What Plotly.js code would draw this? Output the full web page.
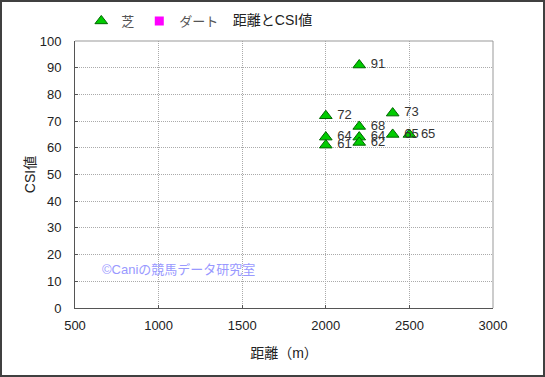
<!DOCTYPE html>
<html><head><meta charset="utf-8">
<script src="https://cdn.plot.ly/plotly-3.0.1.min.js"></script>
<style>
body{margin:0;background:#fff;}
#wrap{position:relative;width:545px;height:377px;}
#chart{width:545px;height:377px;}
#frame{position:absolute;left:0;top:0;width:545px;height:377px;box-sizing:border-box;border:2px solid #404040;pointer-events:none;}
</style>
</head><body>
<div id="wrap"><div id="chart"></div><div id="frame"></div></div>
<script>
const turfDistance = [2000, 2000, 2000, 2200, 2200, 2200, 2200, 2400, 2400, 2500];
const turfCSI      = [72,   64,   61,   91,   68,   64,   62,   73,   65,   65];
const dirtDistance = [null];
const dirtCSI      = [null];
const xTicks = [500, 1000, 1500, 2000, 2500, 3000];
const yTicks = [0, 10, 20, 30, 40, 50, 60, 70, 80, 90, 100];

const font = "'Liberation Sans', 'Noto Sans CJK JP', sans-serif";

const traces = [
  {
    x: turfDistance, y: turfCSI, name: '芝', type: 'scatter',
    mode: 'markers+text', text: turfCSI.map(String), texttemplate: ' %{text}', textposition: 'middle right',
    textfont: {size: 13, color: '#333333', family: font},
    marker: {symbol: 'triangle-up', size: 11, color: '#00cc00', line: {color: '#006600', width: 1}},
    cliponaxis: false
  },
  {
    x: dirtDistance, y: dirtCSI, name: 'ダート', type: 'scatter', mode: 'markers',
    marker: {symbol: 'square', size: 9, color: '#ff00ff'}
  }
];

const gridDash = '1px,1px';

const layout = {
  width: 545, height: 377,
  margin: {l: 75, r: 52, t: 41, b: 69, autoexpand: false},
  paper_bgcolor: '#ffffff', plot_bgcolor: '#ffffff',
  font: {family: font, size: 12, color: '#222222'},
  title: {text: '距離とCSI値', font: {size: 14, color: '#222222', family: font}, x: 0.5, xref: 'container', y: 25, yref: 'container', xanchor: 'center', yanchor: 'middle'},
  showlegend: true,
  legend: {orientation: 'h', x: 0.015, y: 1.075, xanchor: 'left', yanchor: 'middle', font: {size: 13, color: '#555555'}, itemwidth: 30, tracegroupgap: 0, bgcolor: 'rgba(0,0,0,0)'},
  xaxis: {
    range: [500, 3000], tickvals: xTicks, ticktext: xTicks.map(String),
    showgrid: true, gridcolor: '#aaaaaa', griddash: gridDash, gridwidth: 1,
    showline: true, linecolor: '#555555', linewidth: 1, mirror: false,
    ticks: 'inside', ticklen: 3, tickcolor: '#555555', ticklabelstandoff: 5,
    zeroline: false, tickfont: {size: 13, color: '#222222'},
    title: {text: '距離（m）', font: {size: 14, color: '#222222'}, standoff: 16}
  },
  yaxis: {
    range: [0, 100], tickvals: yTicks, ticktext: yTicks.map(String),
    showgrid: true, gridcolor: '#aaaaaa', griddash: gridDash, gridwidth: 1,
    showline: true, linecolor: '#555555', linewidth: 1, mirror: false,
    ticks: 'inside', ticklen: 3, tickcolor: '#555555', ticklabelstandoff: 10,
    zeroline: false, tickfont: {size: 13, color: '#222222'},
    title: {text: 'CSI値', font: {size: 14, color: '#222222'}, standoff: 0}
  },
  shapes: [
    {type: 'line', xref: 'paper', yref: 'paper', x0: 0, x1: 1, y0: 1, y1: 1, line: {color: '#999999', width: 1}},
    {type: 'line', xref: 'paper', yref: 'paper', x0: 1, x1: 1, y0: 0, y1: 1, line: {color: '#999999', width: 1}}
  ],
  annotations: [
    {text: '©Caniの競馬データ研究室', xref: 'x', yref: 'y', x: 650, y: 14.5, xanchor: 'left', yanchor: 'middle', showarrow: false, font: {size: 13, color: '#9999ff'}}
  ]
};

Plotly.newPlot('chart', traces, layout, {displayModeBar: false, staticPlot: true});
</script>
</body></html>
